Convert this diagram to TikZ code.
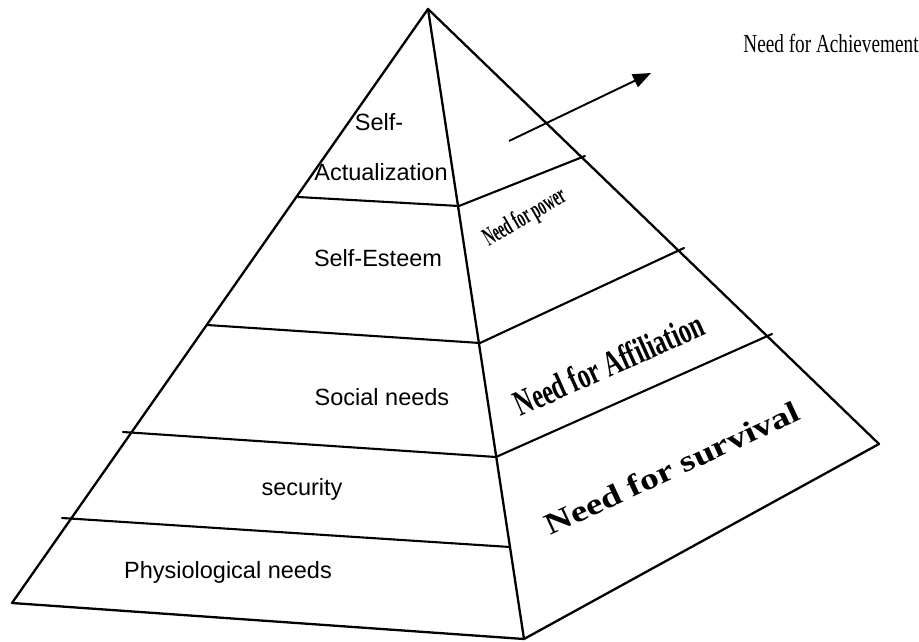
\documentclass[tikz,border=0pt]{standalone}
\usepackage{fontspec}
\newfontfamily\labsans{Liberation Sans}
\newfontfamily\labserif{Liberation Serif}
\usetikzlibrary{arrows.meta}
\begin{document}
\begin{tikzpicture}[x=1pt,y=-1pt,
  edge/.style={line width=2.3pt,line join=round,line cap=round},
  band/.style={line width=2.1pt,line cap=round},
  level/.style={inner sep=0pt,font=\labsans\fontsize{23.5}{26}\selectfont},
  motive/.style={inner sep=0pt,font=\labserif\bfseries}]
\useasboundingbox (0,0) rectangle (919,642);

% corners of the pyramid
\coordinate (apex) at (428,9);
\coordinate (left) at (12,603);
\coordinate (front) at (524,639);
\coordinate (right) at (879,444);

% points where the bands meet the edges
\coordinate (l1) at (298,197);  \coordinate (c1) at (459,206);  \coordinate (r1) at (585,156);
\coordinate (l2) at (207,325);  \coordinate (c2) at (480,343);  \coordinate (r2) at (684,248);
\coordinate (l3) at (123,432);  \coordinate (c3) at (496,457);  \coordinate (r3) at (772,334);
\coordinate (l4) at (62,518);   \coordinate (c4) at (510,547);

% outline
\draw[edge] (apex) -- (left) -- (front) -- (right) -- cycle;
\draw[edge] (apex) -- (front);

% bands on the front face
\draw[band] (l1) -- (c1);
\draw[band] (l2) -- (c2);
\draw[band] (l3) -- (c3);
\draw[band] (l4) -- (c4);

% bands on the side face
\draw[band] (c1) -- (r1);
\draw[band] (c2) -- (r2);
\draw[band] (c3) -- (r3);

% labels of the front face
\node[level] (sa1) at (379,122) {Self-};
\node[level] (sa2) at (381,172) {Actualization};
\node[level] (se) at (378,258) {Self-Esteem};
\node[level] (sn) at (382,397) {Social needs};
\node[level] (sec) at (302,489) {security};
\node[level] (phy) at (228,572) {Physiological needs};

% labels of the side face
\node[motive,rotate=30] (pow) at (525,218)
  {\fontsize{26}{28}\selectfont\scalebox{0.53}[1]{Need for power}};
\node[motive,rotate=24] (aff) at (609,364)
  {\fontsize{36}{38}\selectfont\scalebox{0.68}[1]{Need for Affiliation}};
\node[motive,rotate=25] (sur) at (672,468)
  {\fontsize{30}{33}\selectfont\scalebox{1.25}[1]{Need for survival}};

% achievement label and its arrow
\node[inner sep=0pt,font=\labserif\fontsize{26}{28}\selectfont] (ach) at (831,43)
  {\scalebox{0.74}[1]{Need for Achievement}};
\coordinate (arrstart) at (509,141);
\coordinate (arrend) at (651,73);
\draw[line width=1.9pt,-{Triangle[length=18pt,width=14pt]}] (arrstart) -- (arrend);
\end{tikzpicture}
\end{document}
